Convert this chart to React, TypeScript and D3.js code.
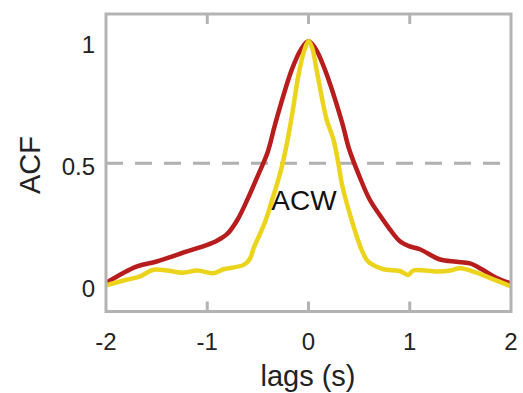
import React, { useEffect, useRef } from 'react';
import * as d3 from 'd3';

// lag (s) / ACF pairs
const redLags = [-2.0, -1.7, -1.5, -1.2, -1.0, -0.9, -0.8, -0.7, -0.6, -0.5, -0.4, -0.33, -0.166, -0.07, 0, 0.07, 0.163, 0.33, 0.4, 0.5, 0.6, 0.7, 0.8, 0.9, 1.0, 1.1, 1.3, 1.46, 1.595, 1.72, 1.86, 2.0];
const redAcf = [0.01, 0.077, 0.098, 0.139, 0.166, 0.184, 0.212, 0.27, 0.355, 0.45, 0.55, 0.66, 0.883, 0.97, 1.0, 0.97, 0.883, 0.67, 0.56, 0.45, 0.355, 0.29, 0.232, 0.182, 0.16, 0.148, 0.106, 0.097, 0.09, 0.064, 0.03, 0.008];

const yellowLags = [-2.0, -1.8, -1.67, -1.53, -1.4, -1.24, -1.1, -0.94, -0.84, -0.64, -0.58, -0.54, -0.48, -0.42, -0.36, -0.3, -0.25, -0.2, -0.15, -0.1, -0.04, 0, 0.035, 0.08, 0.18, 0.245, 0.295, 0.33, 0.41, 0.525, 0.575, 0.62, 0.74, 0.9, 0.985, 1.035, 1.27, 1.4, 1.5, 1.66, 1.825, 2.0];
const yellowAcf = [0.0, 0.023, 0.036, 0.064, 0.061, 0.052, 0.061, 0.05, 0.066, 0.084, 0.108, 0.155, 0.21, 0.27, 0.35, 0.43, 0.51, 0.61, 0.73, 0.86, 0.965, 1.0, 0.975, 0.883, 0.678, 0.6, 0.5, 0.415, 0.29, 0.145, 0.105, 0.088, 0.066, 0.059, 0.043, 0.061, 0.057, 0.061, 0.07, 0.052, 0.025, -0.004];

const xTicks = [-2, -1, 0, 1, 2];
const yTicks = [0, 0.5, 1];
const threshold = 0.5;

const W = 523;
const H = 393;
const FONT = '"Liberation Sans", Arial, Helvetica, sans-serif';

const App: React.FC = () => {
  const svgRef = useRef<SVGSVGElement>(null);

  useEffect(() => {
    const svg = d3.select(svgRef.current);
    svg.selectAll('*').remove();

    const left = 106, right = 511, top = 14, bottom = 311.5;

    const x = d3.scaleLinear().domain([-2, 2]).range([left, right]);
    const y = d3.scaleLinear().domain([-0.107, 1.112]).range([bottom, top]);

    const axisColor = '#b3b3b3';

    // threshold line
    svg.append('line')
      .attr('x1', left).attr('x2', right)
      .attr('y1', y(threshold)).attr('y2', y(threshold))
      .attr('stroke', '#b0b0b0')
      .attr('stroke-width', 3)
      .attr('stroke-dasharray', '17 12');

    const line = d3.line<[number, number]>()
      .x(d => x(d[0]))
      .y(d => y(d[1]))
      .curve(d3.curveCatmullRom.alpha(0.5));

    const red = redLags.map((l, i) => [l, redAcf[i]] as [number, number]);
    const yellow = yellowLags.map((l, i) => [l, yellowAcf[i]] as [number, number]);

    svg.append('path')
      .datum(red)
      .attr('d', line)
      .attr('fill', 'none')
      .attr('stroke', '#b81d1d')
      .attr('stroke-width', 4.5)
      .attr('stroke-linejoin', 'round');

    svg.append('path')
      .datum(yellow)
      .attr('d', line)
      .attr('fill', 'none')
      .attr('stroke', '#ecd41c')
      .attr('stroke-width', 4.5)
      .attr('stroke-linejoin', 'round');

    // axes box
    svg.append('rect')
      .attr('x', left).attr('y', top)
      .attr('width', right - left).attr('height', bottom - top)
      .attr('fill', 'none')
      .attr('stroke', axisColor)
      .attr('stroke-width', 3);

    // inward ticks on bottom and top
    xTicks.filter(t => t > -2 && t < 2).forEach(t => {
      svg.append('line')
        .attr('x1', x(t)).attr('x2', x(t))
        .attr('y1', bottom).attr('y2', bottom - 10)
        .attr('stroke', axisColor).attr('stroke-width', 3);
      svg.append('line')
        .attr('x1', x(t)).attr('x2', x(t))
        .attr('y1', top).attr('y2', top + 10)
        .attr('stroke', axisColor).attr('stroke-width', 3);
    });

    svg.selectAll('.xlab')
      .data(xTicks)
      .enter().append('text')
      .attr('x', d => x(d))
      .attr('y', 350)
      .attr('text-anchor', 'middle')
      .attr('font-family', FONT)
      .attr('font-size', 24)
      .attr('fill', '#222')
      .text(d => String(d));

    svg.selectAll('.ylab')
      .data(yTicks)
      .enter().append('text')
      .attr('x', 95)
      .attr('y', d => y(d) + 12)
      .attr('text-anchor', 'end')
      .attr('font-family', FONT)
      .attr('font-size', 24)
      .attr('fill', '#222')
      .text(d => String(d));

    svg.append('text')
      .attr('x', 308)
      .attr('y', 386)
      .attr('text-anchor', 'middle')
      .attr('font-family', FONT)
      .attr('font-size', 29)
      .attr('fill', '#222')
      .text('lags (s)');

    svg.append('text')
      .attr('transform', `translate(40,165) rotate(-90)`)
      .attr('text-anchor', 'middle')
      .attr('font-family', FONT)
      .attr('font-size', 29)
      .attr('fill', '#222')
      .text('ACF');

    svg.append('text')
      .attr('x', 304)
      .attr('y', 210)
      .attr('text-anchor', 'middle')
      .attr('font-family', FONT)
      .attr('font-size', 28)
      .attr('fill', '#111')
      .text('ACW');
  }, []);

  return (
    <svg
      ref={svgRef}
      width={W}
      height={H}
      style={{ position: 'absolute', left: 0, top: 0, background: '#fff' }}
    />
  );
};

export default App;
